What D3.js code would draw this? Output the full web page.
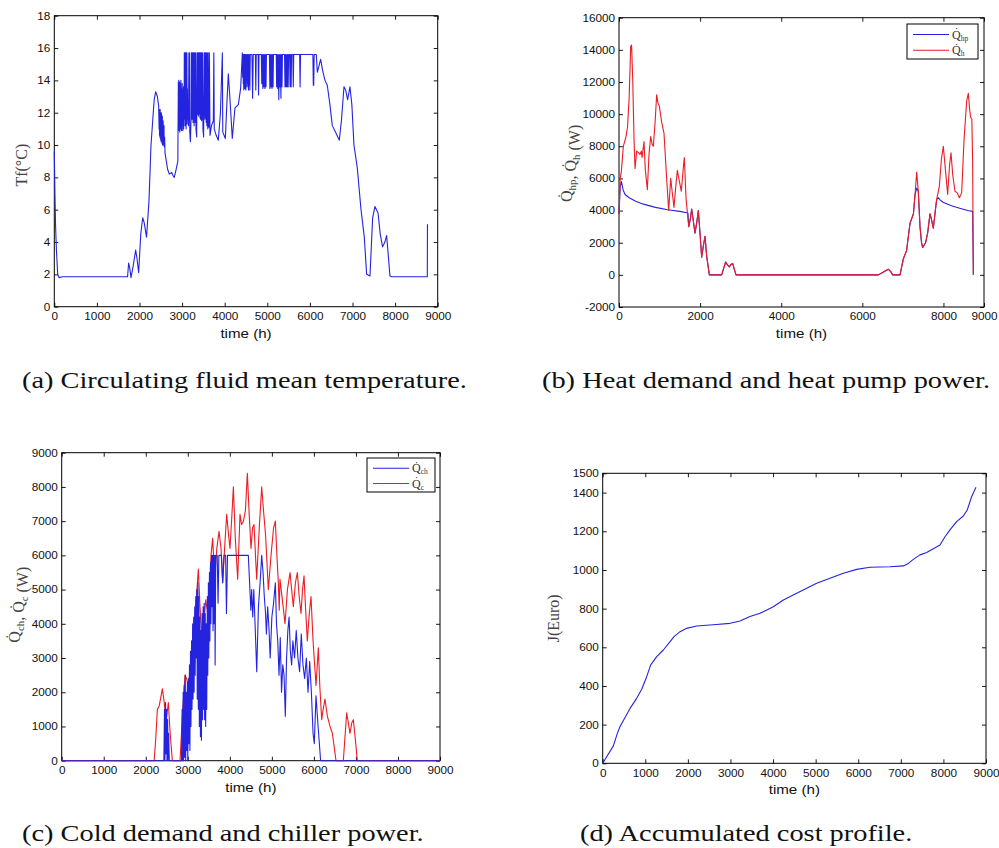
<!DOCTYPE html>
<html><head><meta charset="utf-8">
<script src="https://cdn.jsdelivr.net/npm/d3@7"></script>
<style>
body{margin:0;background:#fff;overflow:hidden;}
svg{display:block;}
.tick text{font-family:"Liberation Sans",Arial,sans-serif;font-size:10.5px;fill:#111;}
</style></head>
<body><svg id="c" width="999" height="848"></svg>
<script>
// ---------- data ----------
const xTicks1000 = [0,1000,2000,3000,4000,5000,6000,7000,8000,9000];
const xTicksB = [0,2000,4000,6000,8000,9000];
const yTicksA = [0,2,4,6,8,10,12,14,16,18];
const yTicksB = [-2000,0,2000,4000,6000,8000,10000,12000,14000,16000];
const yTicksC = [0,1000,2000,3000,4000,5000,6000,7000,8000,9000];
const yTicksD = [0,200,400,600,800,1000,1200,1400,1500];
const captions = ["(a) Circulating fluid mean temperature.","(b) Heat demand and heat pump power.","(c) Cold demand and chiller power.","(d) Accumulated cost profile."];

// (a) circulating fluid mean temperature Tf [time h, °C]
const tf = [[0,9.6],[15,7],[30,5],[50,3.5],[80,2.0],[110,1.8],[200,1.85],[1720,1.85],[1745,2.7],[1770,2.4],[1800,1.8],[1850,2.5],[1910,3.5],[1940,3.0],[1980,2.1],[2030,4.5],[2075,5.5],[2110,5.2],[2165,4.3],[2222,6.5],[2270,10.0],[2310,11.5],[2345,12.8],[2380,13.3],[2420,13.0],[2450,12.4],
[2460,11.0],[2465,12.2],[2470,10.6],[2475,12.1],[2480,10.5],[2485,12.2],[2490,10.4],[2495,12.0],[2500,10.3],[2505,11.9],[2510,10.2],[2515,12.0],[2520,10.2],[2525,11.7],[2530,10.1],[2535,11.8],[2540,10.0],[2545,11.4],[2550,10.1],[2555,11.5],[2560,10.0],[2565,11.1],[2570,10.0],[2575,11.2],[2580,9.9],[2590,10.5],[2600,9.5],[2630,9.0],[2660,8.5],[2700,8.2],[2755,8.3],[2790,8.1],[2817,8.0],[2860,8.5],[2900,9.0],
[2912,13.9],[2917,11.2],[2922,14.0],[2927,10.9],[2932,13.6],[2937,11.4],[2942,13.9],[2947,10.8],[2952,13.2],[2957,11.5],[2962,13.8],[2967,11.0],[2972,14.0],[2977,11.3],[2982,13.5],[2987,10.9],[2992,13.1],[2997,11.6],[3002,13.8],[3007,11.2],[3012,13.4],[3017,10.9],[3022,12.8],[3027,11.4],[3032,13.6],[3037,11.0],[3042,12.6],[3047,11.7],
[3052,15.7],[3058,11.6],[3064,15.7],[3070,11.2],[3076,15.7],[3082,11.8],[3088,15.7],[3094,11.0],[3100,15.7],[3106,11.9],[3112,15.7],[3118,11.3],[3124,13.5],[3130,11.6],[3140,12.8],[3150,11.2],[3160,15.7],[3166,11.5],[3172,15.7],[3180,10.8],[3195,10.2],[3210,11.6],[3216,15.7],[3222,11.8],[3228,15.7],[3234,11.6],[3240,15.7],[3246,12.0],[3252,15.7],[3258,11.4],[3264,15.7],[3270,11.9],[3276,15.7],[3282,11.2],[3290,15.7],[3296,11.7],[3302,15.7],[3310,11.4],[3318,15.7],[3326,11.0],[3342,10.5],[3352,15.7],[3358,11.9],[3364,15.7],[3370,12.0],[3376,15.7],[3382,11.8],[3388,15.7],[3394,12.1],[3400,15.7],[3406,11.9],[3412,15.7],[3418,11.7],[3424,15.7],[3430,11.6],[3436,15.7],[3442,11.9],[3448,15.7],[3456,11.5],[3462,15.7],[3470,11.6],[3478,15.7],[3490,11.0],[3505,10.5],[3518,15.7],[3524,11.8],[3530,15.7],[3536,11.6],[3542,15.7],[3550,11.7],[3558,15.7],[3566,11.4],[3574,15.7],[3582,11.2],[3595,15.7],[3603,11.0],[3615,11.4],[3625,15.7],[3633,11.1],[3640,15.7],[3655,10.6],
[3690,11.2],[3733,11.5],[3745,15.7],[3755,11.0],[3800,10.6],[3850,10.3],[3900,12.0],[3945,15.7],[3955,10.8],[4015,10.4],[4050,12.5],[4085,14.4],[4120,13.0],[4178,10.4],[4241,12.3],[4320,12.5],[4374,13.5],[4414,15.7],
[4422,14.2],[4430,15.6],[4436,13.8],[4442,15.6],[4448,13.4],[4454,15.6],[4460,13.9],[4466,15.6],[4472,13.5],[4478,15.6],[4484,13.8],[4490,15.6],[4496,13.4],[4502,15.6],[4510,14.0],[4518,15.6],[4526,13.6],[4534,15.6],[4542,13.8],[4550,15.6],[4558,13.4],[4566,15.6],[4574,13.7],[4582,15.6],[4590,13.4],[4600,15.6],[4640,15.6],[4655,12.9],[4670,15.6],[4720,15.6],[4730,13.4],[4740,15.6],[4785,15.6],[4795,13.1],[4805,15.6],[4860,15.6],[4870,13.8],[4880,15.6],[4895,13.5],[4905,15.6],[4920,13.6],[4930,15.6],[4945,13.5],[4955,15.6],[4970,13.6],[4980,15.6],[5050,15.6],[5060,13.5],[5070,15.6],[5085,13.6],[5095,15.6],[5110,13.5],[5120,15.6],[5135,13.6],[5145,15.6],[5210,15.6],[5220,13.6],[5230,15.6],[5245,13.5],[5255,15.6],[5270,12.8],[5280,15.6],[5295,13.6],[5305,15.6],[5320,12.9],[5330,15.6],[5345,13.6],[5355,15.6],[5405,15.6],[5415,13.6],[5425,15.6],[5440,13.6],[5450,15.6],[5465,13.6],[5475,15.6],[5490,13.6],[5500,15.6],[5525,15.6],[5535,13.6],[5545,15.6],[5560,13.6],[5570,15.6],[5600,15.6],[5610,13.6],[5620,15.6],[5760,15.6],[5770,13.6],[5780,15.6],[6070,15.6],[6080,13.7],[6090,13.7],[6100,15.6],[6150,15.6],[6174,14.5],[6252,15.3],[6300,14.6],[6354,14.0],[6408,13.7],[6470,12.5],[6526,11.2],[6600,10.8],[6690,10.3],[6740,11.5],[6800,13.6],[6840,13.4],[6886,12.8],[6940,13.6],[6985,12.5],[7034,10.0],[7112,8.6],[7200,6.0],[7277,4.3],[7332,2.0],[7410,1.9],[7473,5.5],[7527,6.2],[7600,5.8],[7650,4.5],[7707,3.7],[7760,4.0],[7801,4.4],[7830,3.5],[7879,1.9],[7920,1.85],[8756,1.85],[8760,5.1]];

// (b) heat demand Qh and heat pump power Qhp [time h, W]
const qh = [[0,3800],[30,6000],[60,6500],[107,8000],[173,8600],[210,9200],[250,11000],[288,14200],[310,14300],[340,12000],[370,8500],[395,6600],[436,7700],[480,7600],[518,7500],[550,7700],[570,7300],[616,8300],[650,6500],[699,5300],[740,7500],[781,8600],[820,8100],[847,8000],[890,9500],[929,11200],[960,10700],[995,10500],[1052,9500],[1110,8800],[1175,6000],[1225,4000],[1274,6000],[1310,5200],[1356,4200],[1400,5500],[1438,6500],[1490,5800],[1537,5200],[1580,6500],[1611,7300],[1652,4800],[1700,3500],[1720,3000],[1760,3500],[1792,4100],[1830,3400],[1874,2600],[1920,3300],[1956,4000],[2000,2500],[2038,1100],[2080,1800],[2121,2400],[2160,1200],[2228,0],[2532,0],[2580,400],[2630,800],[2680,600],[2720,500],[2760,650],[2803,700],[2885,0],[6395,0],[6500,150],[6641,350],[6700,200],[6748,0],[6929,0],[7011,1000],[7090,1500],[7175,3200],[7260,3800],[7300,5000],[7340,6400],[7380,5200],[7422,3000],[7460,2000],[7488,1700],[7560,2000],[7610,2600],[7668,3800],[7700,3500],[7750,2900],[7800,4000],[7833,4700],[7899,5500],[7950,7200],[7997,8000],[8050,6500],[8104,5000],[8150,6800],[8186,7600],[8230,6200],[8285,5200],[8340,5100],[8392,4800],[8449,5100],[8510,8500],[8572,10800],[8613,11300],[8650,10200],[8671,9800],[8700,9700],[8720,7000],[8737,0]];
const qhp = [[0,3800],[30,5500],[60,5800],[100,5300],[150,5000],[250,4800],[400,4600],[600,4400],[900,4200],[1200,4050],[1500,3950],[1700,3850],[1720,3000],[1760,3500],[1792,4100],[1830,3400],[1874,2600],[1920,3300],[1956,4000],[2000,2500],[2038,1100],[2080,1800],[2121,2400],[2160,1200],[2228,0],[2532,0],[2580,400],[2630,800],[2680,600],[2720,500],[2760,650],[2803,700],[2885,0],[6395,0],[6500,150],[6641,350],[6700,200],[6748,0],[6929,0],[7011,1000],[7090,1500],[7175,3200],[7260,3800],[7300,5000],[7340,5400],[7380,5200],[7422,3000],[7460,2000],[7488,1700],[7560,2000],[7610,2600],[7668,3800],[7700,3500],[7750,2900],[7800,4000],[7833,4700],[7880,4800],[7900,4700],[8000,4500],[8200,4300],[8400,4150],[8600,4000],[8720,3950],[8737,0]];

// (c) cold demand Qc and chiller power Qch [time h, W]
const qc = [[0,0],[2200,0],[2240,700],[2276,1500],[2320,1600],[2395,2100],[2440,1700],[2470,1300],[2498,1300],[2537,1700],[2580,800],[2633,0],[2815,0],[2880,1500],[2934,2500],[2970,2400],[3013,2200],[3070,2800],[3132,3500],[3190,4500],[3251,5600],[3290,4500],[3315,4000],[3350,3500],[3426,4700],[3489,4200],[3552,6000],[3592,6500],[3620,5800],[3650,5500],[3690,6200],[3743,6700],[3790,6200],[3830,5200],[3880,6300],[3925,7200],[3970,6600],[4004,6200],[4050,7200],[4084,8000],[4130,6500],[4187,5300],[4242,7200],[4280,6900],[4322,7000],[4370,7300],[4417,8400],[4460,7200],[4504,6200],[4540,6800],[4575,6900],[4610,6000],[4639,5300],[4700,6800],[4758,8000],[4795,7400],[4850,6600],[4916,5000],[4980,6000],[5040,6800],[5083,7000],[5120,6000],[5154,5200],[5175,4400],[5193,5300],[5250,4700],[5313,4000],[5370,5000],[5432,5500],[5470,5000],[5511,4500],[5560,5200],[5606,5500],[5650,4800],[5693,4300],[5730,5000],[5765,5400],[5800,4500],[5844,3500],[5890,4300],[5931,4800],[5980,3500],[6050,2200],[6106,3300],[6140,2200],[6185,1200],[6220,1500],[6264,1800],[6320,1300],[6383,1000],[6440,800],[6526,0],[6700,0],[6780,1400],[6859,800],[6900,1100],[6938,1200],[6980,700],[7034,0],[9000,0]];
const qch = [[0,0],[2430,0],[2445,1500],[2455,0],[2470,1700],[2480,200],[2495,1500],[2505,0],[2520,1200],[2530,0],[2545,800],[2560,0],[2850,0],[2865,1500],[2875,0],[2890,2000],[2900,0],[2915,2200],[2925,100],[2940,2500],[2950,0],[2965,2000],[2975,300],[2990,2300],[3000,0],[3015,2400],[3025,500],[3040,2800],[3050,300],[3065,3200],[3075,1000],[3090,3500],[3100,1500],[3115,4000],[3125,1800],[3140,4200],[3150,2000],[3165,4500],[3175,2500],[3190,4800],[3200,3000],[3215,5000],[3225,1800],[3240,5200],[3250,1500],[3265,4800],[3275,1000],[3290,4200],[3300,700],[3315,3800],[3325,600],[3340,4300],[3350,1200],[3365,4500],[3375,1500],[3390,4600],[3400,1200],[3415,4300],[3425,1000],[3440,4000],[3450,1500],[3465,4800],[3475,2500],[3490,5200],[3500,3000],[3515,5500],[3525,3500],[3540,5800],[3550,4000],[3565,6000],[3575,4500],[3590,6000],[3600,3800],[3615,6000],[3625,4000],[3640,6000],[3650,2800],[3665,6000],[3700,6000],[3720,4600],[3740,6000],[3800,6000],[3830,5200],[3860,6000],[3900,6000],[3920,4300],[3945,6000],[4440,6000],[4470,5200],[4500,4400],[4520,5000],[4545,4200],[4570,5000],[4600,4000],[4640,2600],[4680,4500],[4720,5200],[4758,6000],[4790,5500],[4820,4800],[4850,4300],[4870,3700],[4900,4500],[4930,3900],[4960,3000],[5000,4200],[5040,4600],[5083,5200],[5110,4000],[5140,3500],[5170,2500],[5200,3600],[5230,2000],[5260,2800],[5290,2500],[5320,1300],[5350,3000],[5380,3800],[5410,4200],[5440,3200],[5470,2800],[5500,3500],[5540,3000],[5580,3800],[5620,3000],[5660,2600],[5700,3700],[5740,2800],[5780,2400],[5820,3000],[5860,2000],[5900,2900],[5940,2000],[5980,800],[6010,500],[6050,1900],[6100,1000],[6160,0],[9000,0]];

// (d) accumulated cost J [time h, Euro]
const cost = [[0,0],[94,34],[250,90],[344,155],[407,190],[642,284],[798,336],[916,383],[1033,448],[1127,509],[1268,552],[1424,586],[1581,629],[1675,655],[1816,681],[1972,698],[2207,710],[2598,717],[2990,724],[3224,736],[3459,759],[3694,776],[4007,810],[4242,845],[4555,879],[4790,905],[5024,931],[5337,957],[5650,983],[5963,1003],[6276,1014],[6746,1017],[7059,1021],[7176,1034],[7294,1055],[7450,1078],[7607,1090],[7763,1110],[7920,1129],[8037,1172],[8154,1207],[8310,1250],[8467,1279],[8560,1310],[8662,1379],[8764,1428]];

// ---------- drawing ----------
const svg = d3.select("#c");
const BLUE = "#2424e0", RED = "#ec1c24";
const SX = 1.12;

function panel(cfg){
  const g = svg.append("g");
  const x = d3.scaleLinear().domain(cfg.xdom).range([cfg.x0, cfg.x1]);
  const y = d3.scaleLinear().domain(cfg.ydom).range([cfg.y1, cfg.y0]);
  const fmt = d => String(d);
  g.append("g").attr("transform",`translate(0,${cfg.y1})`)
    .call(d3.axisBottom(x).tickValues(cfg.xticks).tickSizeInner(-4).tickSizeOuter(0).tickPadding(6).tickFormat(fmt));
  g.append("g").attr("transform",`translate(0,${cfg.y0})`)
    .call(d3.axisTop(x).tickValues(cfg.xticks).tickSizeInner(-4).tickSizeOuter(0).tickFormat(""));
  g.append("g").attr("transform",`translate(${cfg.x0},0)`)
    .call(d3.axisLeft(y).tickValues(cfg.yticks).tickSizeInner(-4).tickSizeOuter(0).tickPadding(3.5).tickFormat(fmt));
  g.append("g").attr("transform",`translate(${cfg.x1},0)`)
    .call(d3.axisRight(y).tickValues(cfg.yticks).tickSizeInner(-4).tickSizeOuter(0).tickFormat(""));
  g.selectAll(".domain").remove();
  g.selectAll(".tick line").attr("stroke","#000").attr("stroke-width",0.9);
  g.selectAll(".tick text").attr("transform",`scale(${SX},1)`);
  g.append("rect").attr("x",cfg.x0).attr("y",cfg.y0).attr("width",cfg.x1-cfg.x0).attr("height",cfg.y1-cfg.y0)
    .attr("fill","none").attr("stroke","#000").attr("stroke-width",1);
  g.append("text").attr("x",(cfg.x0+cfg.x1)/2).attr("y",cfg.y1+31).attr("text-anchor","middle")
    .attr("font-family","Liberation Sans, Arial, sans-serif").attr("font-size",13.5).attr("fill","#111")
    .attr("transform",`translate(${(cfg.x0+cfg.x1)/2*(1-SX)},0) scale(${SX},1)`)
    .text("time (h)");
  const line = d3.line().x(d=>x(d[0])).y(d=>y(d[1]));
  cfg.series.forEach(s=>{
    g.append("path").datum(s.data).attr("d",line).attr("fill","none")
      .attr("stroke",s.color).attr("stroke-width",1.1).attr("stroke-linejoin","round");
  });
  const yl = g.append("text").attr("transform",`translate(${cfg.ylx},${(cfg.y0+cfg.y1)/2+cfg.yloff}) rotate(-90)`)
    .attr("text-anchor","middle").attr("font-family","Liberation Serif, Times New Roman, serif")
    .attr("font-size",16).attr("fill","#444");
  cfg.ylabel(yl);
  return {x,y,g};
}

function qlabel(sel, parts, size, unit){
  parts.forEach((p,i)=>{
    if(i>0) sel.append("tspan").text(", ");
    sel.append("tspan").text(p[0]);
    sel.append("tspan").attr("font-size",size*0.68).attr("dy",size*0.25).text(p[1]);
    sel.append("tspan").attr("dy",-size*0.25).text("");
  });
  sel.append("tspan").text(" " + unit);
}

function legend(g, bx, by, bw, bh, items){
  g.append("rect").attr("x",bx).attr("y",by).attr("width",bw).attr("height",bh)
    .attr("fill","#fff").attr("stroke","#000").attr("stroke-width",1);
  items.forEach((it,i)=>{
    const yy = by + bh*(0.3 + 0.45*i);
    g.append("line").attr("x1",bx+6).attr("x2",bx+42).attr("y1",yy).attr("y2",yy)
      .attr("stroke",it.color).attr("stroke-width",1.1);
    const t = g.append("text").attr("x",bx+45).attr("y",yy+4).attr("font-family","Liberation Serif, serif")
      .attr("font-size",12).attr("fill","#333");
    t.append("tspan").text("Q̇");
    t.append("tspan").attr("font-size",7.5).attr("dy",2).text(it.sub);
  });
}

// (a)
panel({x0:54.3,x1:437.7,y0:15.7,y1:306.7,xdom:[0,9000],ydom:[0,18],xticks:xTicks1000,yticks:yTicksA,
  series:[{data:tf,color:BLUE}], ylx:27, yloff:4,
  ylabel: s=>s.text("Tf(°C)")});

// (b)
const pb = panel({x0:619,x1:984,y0:17.7,y1:307,xdom:[0,9000],ydom:[-2000,16000],xticks:xTicksB,yticks:yTicksB,
  series:[{data:qhp,color:BLUE},{data:qh,color:RED}], ylx:572, yloff:1,
  ylabel: s=>qlabel(s,[["Q̇","hp"],["Q̇","h"]],16,"(W)") });
legend(pb.g, 907, 24, 71, 35, [{color:BLUE,sub:"hp"},{color:RED,sub:"h"}]);

// (c)
const pc = panel({x0:61.7,x1:440,y0:452.7,y1:760.7,xdom:[0,9000],ydom:[0,9000],xticks:xTicks1000,yticks:yTicksC,
  series:[{data:qc,color:RED},{data:qch,color:BLUE}], ylx:20, yloff:-2,
  ylabel: s=>qlabel(s,[["Q̇","ch"],["Q̇","c"]],16,"(W)") });
legend(pc.g, 367, 458, 68, 34, [{color:BLUE,sub:"ch"},{color:RED,sub:"c"}]);

// (d)
panel({x0:602.7,x1:986,y0:473.3,y1:763.3,xdom:[0,9000],ydom:[0,1500],xticks:xTicks1000,yticks:yTicksD,
  series:[{data:cost,color:BLUE}], ylx:559, yloff:0,
  ylabel: s=>s.text("J(Euro)")});

// captions
const capPos = [[22,388],[542,388],[22,841],[580,841]];
const capG = svg.append("g");
const capTexts = captions.map((c,i)=> capG.append("text").attr("x",0).attr("y",capPos[i][1])
  .attr("font-family","Liberation Serif, Times New Roman, serif").attr("font-size",24).attr("fill","#111").text(c));
const natA = capTexts[0].node().getComputedTextLength();
const CSX = 445/natA;
capTexts.forEach((t,i)=> t.attr("transform",`translate(${capPos[i][0]},0) scale(${CSX},1)`));
</script>
</body></html>
